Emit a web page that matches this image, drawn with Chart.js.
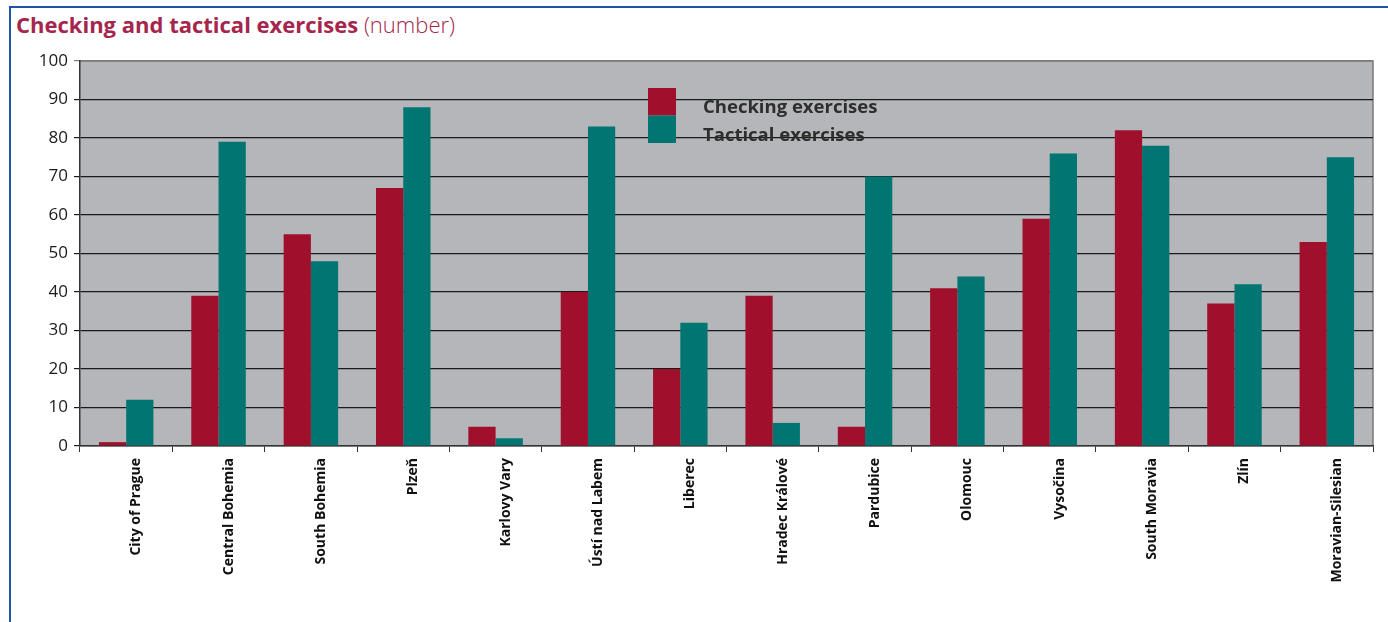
<!DOCTYPE html>
<html>
<head>
<meta charset="utf-8">
<script src="https://cdn.jsdelivr.net/npm/chart.js@4"></script>
<style>
  body { margin:0; background:#fff; width:1388px; height:622px; overflow:hidden; position:relative; font-family:"Open Sans", sans-serif; }
  #frameTop { position:absolute; left:9px; top:6px; width:1379px; height:2px; background:#1f55a6; }
  #frameLeft { position:absolute; left:9px; top:6px; width:2px; height:616px; background:#1f55a6; }
  #title { position:absolute; left:16px; top:9px; font-size:22px; color:#a5264d; white-space:nowrap; }
  #title b { font-weight:bold; }
  #title span { font-weight:300; }
  #wrap { position:absolute; left:0; top:0; width:1388px; height:622px; }
</style>
</head>
<body>
<div id="frameTop"></div>
<div id="frameLeft"></div>
<div id="title"><b>Checking and tactical exercises</b> <span>(number)</span></div>
<div id="wrap"><canvas id="chart" width="1388" height="622"></canvas></div>
<script>
// regions and values
const regions = ['City of Prague','Central Bohemia','South Bohemia','Plzeň','Karlovy Vary','Ústí nad Labem','Liberec','Hradec Králové','Pardubice','Olomouc','Vysočina','South Moravia','Zlín','Moravian-Silesian'];
const checking = [1, 39, 55, 67, 5, 40, 20, 39, 5, 41, 59, 82, 37, 53];
const tactical = [12, 79, 48, 88, 2, 83, 32, 6, 70, 44, 76, 78, 42, 75];
const seriesNames = ['Checking exercises', 'Tactical exercises'];
const seriesColors = ['#a00f2b', '#007572'];

// grey plot background + border
const plotBg = {
  id: 'plotBg',
  beforeDraw(chart) {
    const {ctx, chartArea: a} = chart;
    ctx.save();
    ctx.fillStyle = '#b5b6ba';
    ctx.fillRect(a.left, a.top, a.right - a.left, a.bottom - a.top);
    ctx.strokeStyle = '#7a7a7a';
    ctx.lineWidth = 1.5;
    ctx.beginPath();
    ctx.moveTo(a.left, a.top); ctx.lineTo(a.right, a.top); ctx.lineTo(a.right, a.bottom);
    ctx.stroke();
    ctx.restore();
  }
};

// legend inside the plot, stacked swatches
const innerLegend = {
  id: 'innerLegend',
  afterDatasetsDraw(chart) {
    const {ctx} = chart;
    const x = 648, y = 88, w = 28, h = 27.5;
    ctx.save();
    chart.data.datasets.forEach((ds, i) => {
      ctx.fillStyle = ds.backgroundColor;
      ctx.fillRect(x, y + i * h, w, h);
      ctx.fillStyle = '#2e2e2e';
      ctx.font = 'bold 18.5px "Open Sans", sans-serif';
      ctx.textBaseline = 'middle';
      ctx.fillText(ds.label, 703, y + i * h + 20);
    });
    ctx.restore();
  }
};

new Chart(document.getElementById('chart'), {
  type: 'bar',
  data: {
    labels: regions,
    datasets: [
      {label: seriesNames[0], data: checking, backgroundColor: seriesColors[0]},
      {label: seriesNames[1], data: tactical, backgroundColor: seriesColors[1]}
    ]
  },
  options: {
    responsive: false,
    animation: false,
    events: [],
    layout: {padding: {top: 61, right: 15, left: 0, bottom: 0}},
    plugins: {legend: {display: false}, tooltip: {enabled: false}},
    datasets: {bar: {categoryPercentage: 0.59, barPercentage: 1.0}},
    scales: {
      x: {
        afterFit(s) { s.height = 176; },
        grid: {offset: true, drawOnChartArea: false, drawTicks: true, tickLength: 6, color: '#333'},
        border: {color: '#333', width: 1.5},
        ticks: {
          minRotation: 90, maxRotation: 90, autoSkip: false, labelOffset: 10, padding: 6,
          color: '#111', font: {family: '"Open Sans", sans-serif', size: 14, weight: 'bold'}
        }
      },
      y: {
        min: 0, max: 100,
        afterFit(s) { s.width = 80; },
        grid: {
          color: (c) => c.tick && c.tick.value === 100 ? '#7a7a7a' : '#1a1a1a',
          lineWidth: 1.2, drawTicks: true, tickLength: 6
        },
        border: {color: '#333', width: 1.5},
        ticks: {
          stepSize: 10, padding: 6, color: '#1a1a1a',
          font: {family: '"Open Sans", sans-serif', size: 17}
        }
      }
    }
  },
  plugins: [plotBg, innerLegend]
});
</script>
</body>
</html>
